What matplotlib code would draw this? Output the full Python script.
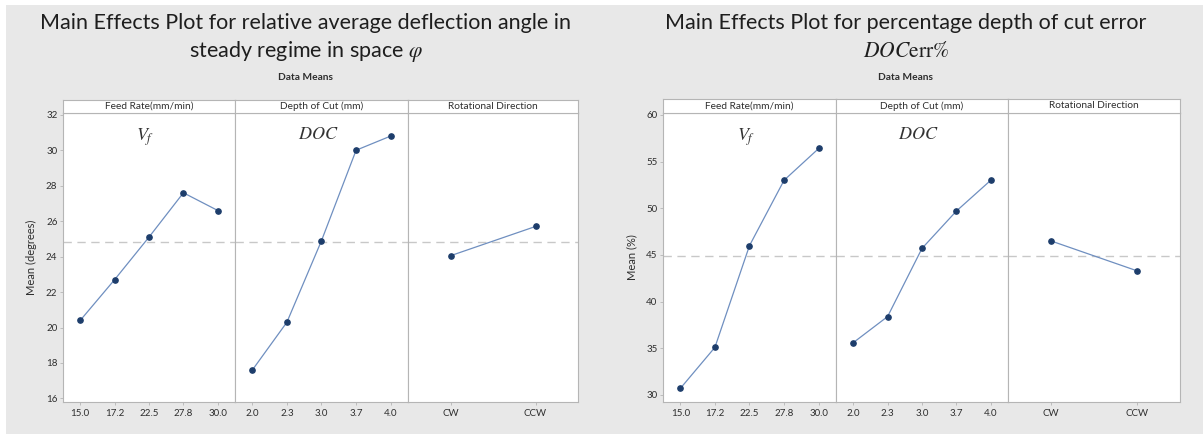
import matplotlib
matplotlib.use("Agg")
import matplotlib.pyplot as plt
from matplotlib.patches import Rectangle

plt.rcParams['font.family'] = ['Lato', 'DejaVu Sans']
plt.rcParams['mathtext.fontset'] = 'stix'

# ---------------- data ----------------
feed_levels = ["15.0", "17.2", "22.5", "27.8", "30.0"]
doc_levels = ["2.0", "2.3", "3.0", "3.7", "4.0"]
rot_levels = ["CW", "CCW"]

factor_names = ["Feed Rate(mm/min)", "Depth of Cut (mm)", "Rotational Direction"]
factor_symbols = [r"$V_f$", r"$DOC$", ""]

# chart 1: relative average deflection angle (degrees)
phi_feed = [20.4, 22.7, 25.1, 27.6, 26.6]
phi_doc = [17.6, 20.3, 24.9, 30.0, 30.8]
phi_rot = [24.05, 25.7]
phi_mean = 24.85
phi_yticks = [16, 18, 20, 22, 24, 26, 28, 30, 32]

# chart 2: percentage depth of cut error (%)
err_feed = [30.7, 35.1, 46.0, 53.0, 56.4]
err_doc = [35.6, 38.4, 45.7, 49.7, 53.0]
err_rot = [46.5, 43.3]
err_mean = 44.9
err_yticks = [30, 35, 40, 45, 50, 55, 60]

W, H = 1203, 434
fig = plt.figure(figsize=(W / 100, H / 100), dpi=100)
fig.patch.set_facecolor('#e8e8e8')

# thin white frame at top / left as in the reference
fig.add_artist(Rectangle((0, 1 - 5 / H), 1, 5 / H, transform=fig.transFigure,
                         facecolor='white', edgecolor='none', zorder=0))
fig.add_artist(Rectangle((0, 0), 6 / W, 1, transform=fig.transFigure,
                         facecolor='white', edgecolor='none', zorder=0))

LINE_C = '#6f8fc0'
MARK_C = '#1d3d6b'
MEAN_C = '#c8c8c8'
EDGE_C = '#b5b5b5'
TXT_C = '#2e2e2e'


def fx(px):
    return px / W


def fy(py):
    return 1 - py / H


def draw_chart(panel_px, top, bottom, strip_top, series, levels, mean, ylim,
               yticks, ylabel, ylabel_x):
    axes = []
    for i, (x0, x1) in enumerate(panel_px):
        ax = fig.add_axes([fx(x0), fy(bottom), fx(x1 - x0), (bottom - top) / H])
        ax.set_facecolor('white')
        n = len(levels[i])
        xs = list(range(n))
        ax.axhline(mean, color=MEAN_C, lw=1.0, ls=(0, (6, 4)), zorder=1)
        ax.plot(xs, series[i], color=LINE_C, lw=0.9, zorder=2)
        ax.plot(xs, series[i], 'o', color=MARK_C, ms=3.8, zorder=3)
        ax.set_xlim(-0.5, n - 0.5)
        ax.set_ylim(*ylim)
        ax.set_xticks(xs)
        ax.set_xticklabels(levels[i])
        ax.tick_params(axis='x', length=2, width=0.6, color=EDGE_C,
                       labelsize=7, labelcolor=TXT_C, pad=3)
        if i == 0:
            ax.set_yticks(yticks)
            ax.set_yticklabels([str(t) for t in yticks])
            ax.tick_params(axis='y', length=2, width=0.6, color=EDGE_C,
                           labelsize=7, labelcolor=TXT_C, pad=2)
        else:
            ax.set_yticks([])
        for s in ax.spines.values():
            s.set_color(EDGE_C)
            s.set_linewidth(0.8)
        # strip header
        sax = fig.add_axes([fx(x0), fy(top), fx(x1 - x0), (top - strip_top) / H])
        sax.set_xticks([])
        sax.set_yticks([])
        sax.set_facecolor('white')
        for s in sax.spines.values():
            s.set_color(EDGE_C)
            s.set_linewidth(0.8)
        sax.text(0.5, 0.5, factor_names[i], ha='center', va='center',
                 fontsize=7.3, color=TXT_C, transform=sax.transAxes)
        if factor_symbols[i]:
            ax.text(0.48, 0.955, factor_symbols[i], ha='center', va='top',
                    fontsize=13, color='#333333', transform=ax.transAxes)
        axes.append(ax)
    fig.text(fx(ylabel_x), fy((top + bottom) / 2), ylabel, rotation=90,
             ha='center', va='center', fontsize=8, color=TXT_C)
    return axes


draw_chart([(63, 235), (235, 408), (408, 578)], 113, 402, 100,
           [phi_feed, phi_doc, phi_rot], [feed_levels, doc_levels, rot_levels],
           phi_mean, (15.8, 32.1), phi_yticks, "Mean (degrees)", 31)

draw_chart([(663, 836), (836, 1008), (1008, 1180)], 113, 402, 99,
           [err_feed, err_doc, err_rot], [feed_levels, doc_levels, rot_levels],
           err_mean, (29.25, 60.2), err_yticks, "Mean (%)", 632)

# titles
TFS = 15.5
fig.text(fx(306), fy(23), "Main Effects Plot for relative average deflection angle in",
         ha='center', va='center', fontsize=TFS, color='#1e1e1e')
fig.text(fx(306), fy(51), r"steady regime in space $\varphi$",
         ha='center', va='center', fontsize=TFS, color='#1e1e1e')
fig.text(fx(306), fy(77), "Data Means", ha='center', va='center',
         fontsize=7.3, color=TXT_C, fontweight='bold')

fig.text(fx(906), fy(23), "Main Effects Plot for percentage depth of cut error",
         ha='center', va='center', fontsize=TFS, color='#1e1e1e')
fig.text(fx(906), fy(51), r"$DOC\mathrm{err\%}$",
         ha='center', va='center', fontsize=TFS, color='#1e1e1e')
fig.text(fx(906), fy(77), "Data Means", ha='center', va='center',
         fontsize=7.3, color=TXT_C, fontweight='bold')

fig.savefig("out.png", dpi=100, facecolor=fig.get_facecolor())
